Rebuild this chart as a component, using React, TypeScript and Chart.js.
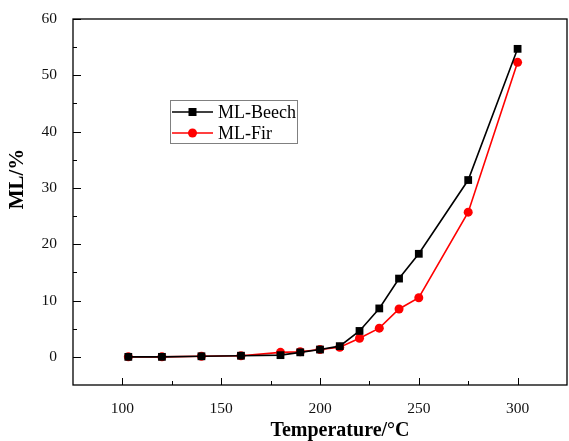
import React, { useEffect, useRef } from 'react';
import { Chart, registerables } from 'chart.js';

Chart.register(...registerables);

const temperatures = [103, 120, 140, 160, 180, 190, 200, 210, 220, 230, 240, 250, 275, 300];
const beech = [0.0, 0.0, 0.1, 0.2, 0.3, 0.8, 1.3, 1.9, 4.6, 8.6, 13.9, 18.3, 31.4, 54.7];
const fir = [0.0, 0.0, 0.1, 0.2, 0.8, 0.9, 1.3, 1.7, 3.3, 5.1, 8.5, 10.5, 25.7, 52.3];
const seriesNames = ['ML-Beech', 'ML-Fir'];
const xMajorTicks = [100, 150, 200, 250, 300];
const xMinorTicks = [125, 175, 225, 275];
const yMajorTicks = [0, 10, 20, 30, 40, 50, 60];
const yMinorTicks = [5, 15, 25, 35, 45, 55];
const xTitle = 'Temperature/°C';
const yTitle = 'ML/%';

const SERIF = '"Liberation Serif", "Times New Roman", serif';

const decorPlugin = {
  id: 'decor',
  afterDatasetsDraw(chart: any) {
    const { ctx, chartArea: a, scales } = chart;
    const x = scales.x;
    const y = scales.y;
    ctx.save();
    ctx.strokeStyle = '#000';
    ctx.lineWidth = 1.3;
    ctx.strokeRect(a.left, a.top, a.right - a.left, a.bottom - a.top);
    ctx.lineWidth = 1;
    ctx.beginPath();
    xMajorTicks.forEach((v) => {
      const px = Math.round(x.getPixelForValue(v)) + 0.5;
      ctx.moveTo(px, a.bottom);
      ctx.lineTo(px, a.bottom - 7);
    });
    xMinorTicks.forEach((v) => {
      const px = Math.round(x.getPixelForValue(v)) + 0.5;
      ctx.moveTo(px, a.bottom);
      ctx.lineTo(px, a.bottom - 4);
    });
    yMajorTicks.forEach((v) => {
      const py = Math.round(y.getPixelForValue(v)) + 0.5;
      ctx.moveTo(a.left, py);
      ctx.lineTo(a.left + 8, py);
    });
    yMinorTicks.forEach((v) => {
      const py = Math.round(y.getPixelForValue(v)) + 0.5;
      ctx.moveTo(a.left, py);
      ctx.lineTo(a.left + 4, py);
    });
    ctx.stroke();

    // Axis titles
    ctx.fillStyle = '#000';
    ctx.font = `bold 20px ${SERIF}`;
    ctx.textAlign = 'center';
    ctx.textBaseline = 'middle';
    ctx.fillText(xTitle, 340, 431);
    ctx.save();
    ctx.translate(18, 179);
    ctx.rotate(-Math.PI / 2);
    ctx.font = `bold 21px ${SERIF}`;
    ctx.fillText(yTitle, 0, 0);
    ctx.restore();

    // Legend
    ctx.strokeStyle = '#808080';
    ctx.lineWidth = 1;
    ctx.strokeRect(170.5, 100.5, 127, 43);
    const rows = [
      { y: 112, color: '#000', style: 'rect' },
      { y: 133, color: '#ff0000', style: 'circle' },
    ];
    rows.forEach((r, i) => {
      ctx.strokeStyle = r.color;
      ctx.fillStyle = r.color;
      ctx.lineWidth = 1.5;
      ctx.beginPath();
      ctx.moveTo(172, r.y);
      ctx.lineTo(213, r.y);
      ctx.stroke();
      if (r.style === 'rect') {
        ctx.fillRect(188.5, r.y - 4, 8, 8);
      } else {
        ctx.beginPath();
        ctx.arc(192.5, r.y, 4.5, 0, Math.PI * 2);
        ctx.fill();
      }
      ctx.fillStyle = '#000';
      ctx.font = `18px ${SERIF}`;
      ctx.textAlign = 'left';
      ctx.textBaseline = 'middle';
      ctx.fillText(seriesNames[i], 218, r.y + 1);
    });
    ctx.restore();
  },
};

export default function App() {
  const canvasRef = useRef<HTMLCanvasElement | null>(null);

  useEffect(() => {
    const canvas = canvasRef.current;
    if (!canvas) return;
    const chart = new Chart(canvas, {
      type: 'line',
      data: {
        datasets: [
          {
            label: seriesNames[0],
            data: temperatures.map((t, i) => ({ x: t, y: beech[i] })),
            borderColor: '#000',
            backgroundColor: '#000',
            borderWidth: 1.6,
            pointStyle: 'rect',
            pointRadius: 5.5,
            pointBorderWidth: 0,
            tension: 0,
          },
          {
            label: seriesNames[1],
            data: temperatures.map((t, i) => ({ x: t, y: fir[i] })),
            borderColor: '#ff0000',
            backgroundColor: '#ff0000',
            borderWidth: 1.6,
            pointStyle: 'circle',
            pointRadius: 4.5,
            pointBorderWidth: 0,
            tension: 0,
          },
        ],
      },
      options: {
        responsive: false,
        animation: false,
        layout: { autoPadding: false, padding: { top: 19, right: 2, left: 0, bottom: 0 } },
        plugins: { legend: { display: false }, tooltip: { enabled: false } },
        scales: {
          x: {
            type: 'linear',
            min: 75,
            max: 325,
            grid: { display: false },
            border: { display: false },
            afterBuildTicks: (scale: any) => {
              scale.ticks = xMajorTicks.map((v) => ({ value: v }));
            },
            afterFit: (scale: any) => {
              scale.height = 56;
              scale.paddingLeft = 0;
              scale.paddingRight = 0;
            },
            ticks: {
              padding: 7,
              color: '#111',
              font: { family: SERIF, size: 15.5 },
              maxRotation: 0,
            },
          },
          y: {
            type: 'linear',
            min: -5,
            max: 60,
            grid: { display: false },
            border: { display: false },
            afterBuildTicks: (scale: any) => {
              scale.ticks = yMajorTicks.map((v) => ({ value: v }));
            },
            afterFit: (scale: any) => {
              scale.width = 73;
              scale.paddingTop = 0;
              scale.paddingBottom = 0;
            },
            ticks: {
              padding: 8,
              color: '#111',
              font: { family: SERIF, size: 15.5 },
            },
          },
        },
      },
      plugins: [decorPlugin],
    });
    return () => chart.destroy();
  }, []);

  return (
    <div style={{ position: 'absolute', left: 0, top: 0, width: 569, height: 441, background: '#fff' }}>
      <canvas ref={canvasRef} width={569} height={441} style={{ display: 'block' }} />
    </div>
  );
}
